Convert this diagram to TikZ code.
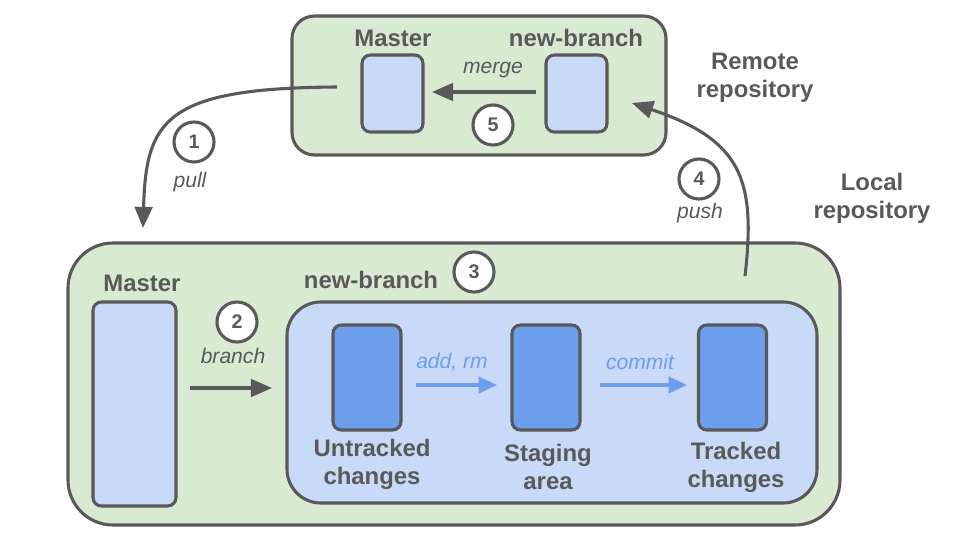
\documentclass[tikz,border=0pt]{standalone}
\usepackage{fontspec}
\setmainfont{Liberation Sans}
\usetikzlibrary{arrows.meta}
\definecolor{grn}{HTML}{D9EAD3}
\definecolor{lblue}{HTML}{C9DAF8}
\definecolor{dblue}{HTML}{6D9EEB}
\definecolor{gry}{HTML}{595959}
\tikzset{
  repobox/.style={draw=gry, line width=2.2pt, fill=grn, rounded corners=#1},
  lightbox/.style={draw=gry, line width=2.2pt, fill=lblue, rounded corners=6pt, inner sep=0pt},
  darkbox/.style={draw=gry, line width=2.2pt, fill=dblue, rounded corners=6pt, inner sep=0pt,
     minimum width=1.7cm, minimum height=2.625cm},
  title/.style={text=gry, font=\bfseries\fontsize{17}{20}\selectfont, align=center},
  lbl/.style={text=gry, font=\itshape\fontsize{15}{18}\selectfont},
  blbl/.style={text=dblue, font=\itshape\fontsize{15}{18}\selectfont},
  num/.style={circle, draw=gry, line width=2.2pt, fill=white, text=gry, minimum size=1.0cm, inner sep=0pt,
     font=\bfseries\fontsize{14}{16}\selectfont},
  arr/.style={draw=gry, line width=2.2pt, -{Triangle[length=15pt,width=12.5pt]}},
  barr/.style={draw=dblue, line width=2.2pt, -{Triangle[length=13pt,width=11.5pt]}},
}
\begin{document}
\begin{tikzpicture}[x=0.025cm,y=-0.025cm]
\useasboundingbox (0,0) rectangle (960,540);
% remote
\node[repobox=16pt, minimum width=374*0.025cm, minimum height=139*0.025cm] (remote) at (479,85.5) {};
\node[title] (rmaster) at (393,38) {Master};
\node[title] (rnb) at (576,38) {new-branch};
\node[lightbox, minimum width=61*0.025cm, minimum height=77*0.025cm] (rmbox) at (392.5,93.5) {};
\node[lightbox, minimum width=61*0.025cm, minimum height=77*0.025cm] (rnbbox) at (576.5,93.5) {};
\coordinate (mergestart) at (536,92);
\coordinate (mergeend) at (432,92);
\draw[arr] (mergestart) -- (mergeend);
\node[lbl] (merge) at (493,70) {merge};
\node[num] (n5) at (493,125) {5};
\node[title] (remotelbl) at (755,78) {Remote\\repository};
% local
\node[repobox=32pt, minimum width=772*0.025cm, minimum height=282*0.025cm] (local) at (454,384) {};
\node[title] (lmaster) at (142,283) {Master};
\node[lightbox, minimum width=83*0.025cm, minimum height=204*0.025cm] (lmbox) at (134.5,404) {};
\node[title] (lnb) at (371,280) {new-branch};
\node[num] (n3) at (474,272) {3};
\node[num] (n2) at (237,322) {2};
\node[lbl] (branch) at (233,356) {branch};
\coordinate (bstart) at (190,388);
\coordinate (bend) at (272,388);
\draw[arr] (bstart) -- (bend);
\node[draw=gry, line width=2.2pt, fill=lblue, rounded corners=24pt, minimum width=530*0.025cm, minimum height=201*0.025cm] (inner) at (552,402.5) {};
\node[darkbox] (untr) at (367,377.5) {};
\node[darkbox] (stag) at (546,377.5) {};
\node[darkbox] (trk) at (732.5,377.5) {};
\node[title] (untrl) at (372,464) {Untracked\\changes};
\node[title] (stagl) at (548,467) {Staging\\area};
\node[title] (trkl) at (736,467) {Tracked\\changes};
\node[blbl] (addrm) at (452,362) {add, rm};
\node[blbl] (commit) at (640,362) {commit};
\coordinate (a1s) at (416,385);
\coordinate (a1e) at (497,385);
\coordinate (a2s) at (600,385);
\coordinate (a2e) at (687,385);
\draw[barr] (a1s) -- (a1e);
\draw[barr] (a2s) -- (a2e);
\node[title] (locallbl) at (872,198) {Local\\repository};
% pull
\coordinate (pullstart) at (337,87);
\coordinate (pullend) at (143,228);
\draw[arr] (pullstart) .. controls (165,88) and (146,120) .. (pullend);
\node[num] (n1) at (194,142) {1};
\node[lbl] (pull) at (190,182) {pull};
% push
\coordinate (pushstart) at (745,276);
\coordinate (pushend) at (632,103);
\draw[arr] (pushstart) .. controls (756,180) and (742,140) .. (pushend);
\node[num] (n4) at (699,179) {4};
\node[lbl] (push) at (700,213) {push};
\end{tikzpicture}
\end{document}
